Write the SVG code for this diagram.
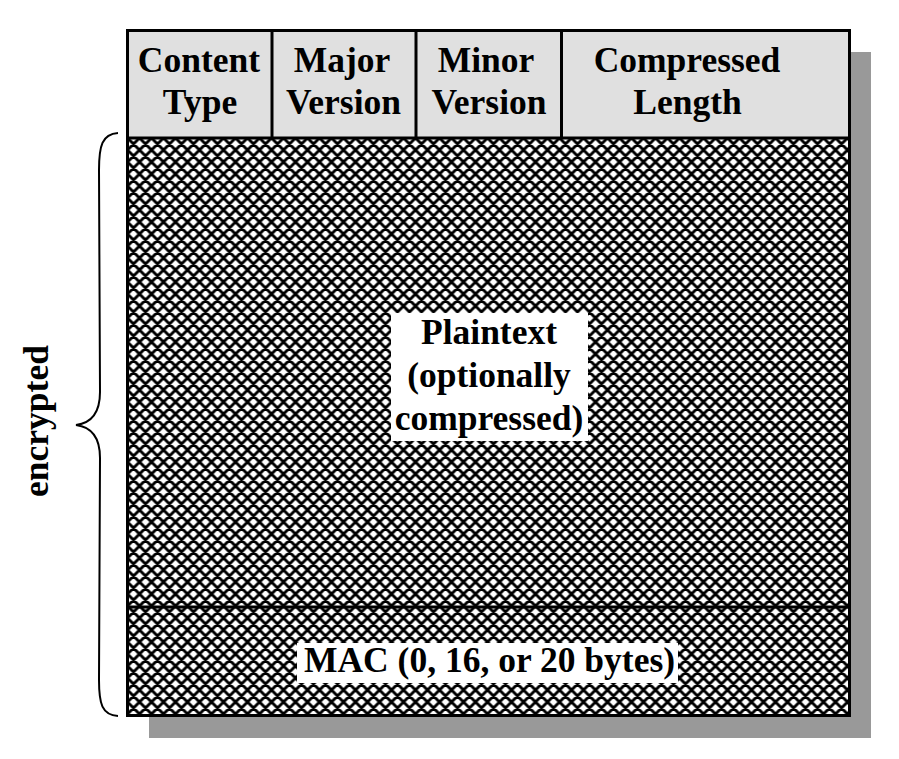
<svg xmlns="http://www.w3.org/2000/svg" width="899" height="759" viewBox="0 0 899 759">
<style>
.t{font-family:"Liberation Serif","Times New Roman",serif;font-weight:bold;font-size:35.5px;fill:#000;text-anchor:middle}
.ln{stroke:#000;stroke-width:3;fill:none}
</style>
<defs>
<pattern id="hatch" patternUnits="userSpaceOnUse" width="12" height="12" x="127.5" y="138">
<rect width="12" height="12" fill="#fff"/>
<path d="M0,0 L12,12 M-6,6 L6,18 M6,-6 L18,6 M12,0 L0,12 M-6,6 L6,-6 M6,18 L18,6" stroke="#000" stroke-width="2.9"/>
</pattern>
</defs>
<rect width="899" height="759" fill="#fff"/>
<rect id="shadow" x="149" y="52" width="722" height="686" fill="#999"/>
<g id="record">
<rect x="127.5" y="30.5" width="722" height="107.5" fill="#e0e0e0"/>
<rect x="127.5" y="138" width="722" height="577.5" fill="url(#hatch)"/>
<rect x="127.5" y="30.5" width="722" height="685" class="ln"/>
</g>
<g id="header">
<line x1="127.5" y1="138" x2="849.5" y2="138" class="ln"/>
<g id="content-type">
<line x1="272" y1="30.5" x2="272" y2="138" class="ln"/>
<text class="t" x="199" y="72">Content</text>
<text class="t" x="200" y="114">Type</text>
</g>
<g id="major-version">
<line x1="416" y1="30.5" x2="416" y2="138" class="ln"/>
<text class="t" x="342" y="72">Major</text>
<text class="t" x="343.5" y="114">Version</text>
</g>
<g id="minor-version">
<line x1="561.5" y1="30.5" x2="561.5" y2="138" class="ln"/>
<text class="t" x="486" y="72">Minor</text>
<text class="t" x="489" y="114">Version</text>
</g>
<g id="compressed-length">
<text class="t" x="687" y="72">Compressed</text>
<text class="t" x="687.5" y="114">Length</text>
</g>
</g>
<g id="plaintext">
<rect x="391" y="313" width="197" height="128" fill="#fff"/>
<text class="t" x="489" y="344">Plaintext</text>
<text class="t" x="489" y="387">(optionally</text>
<text class="t" x="489" y="430">compressed)</text>
</g>
<g id="mac">
<line x1="127.5" y1="607" x2="849.5" y2="607" class="ln"/>
<rect x="297" y="643" width="381" height="40" fill="#fff"/>
<text class="t" x="489.5" y="672">MAC (0, 16, or 20 bytes)</text>
</g>
<g id="connectors">
<path d="M118,133 C102,134 99,146 99,170 L100,392 C100,412 92,423 76,425 C92,427 100,438 100,458 L99,680 C99,704 102,715 118,716" stroke="#000" stroke-width="2" fill="none"/>
</g>
<g id="encrypted-label">
<text class="t" transform="translate(48,421) rotate(-90)" x="0" y="0">encrypted</text>
</g>
</svg>
